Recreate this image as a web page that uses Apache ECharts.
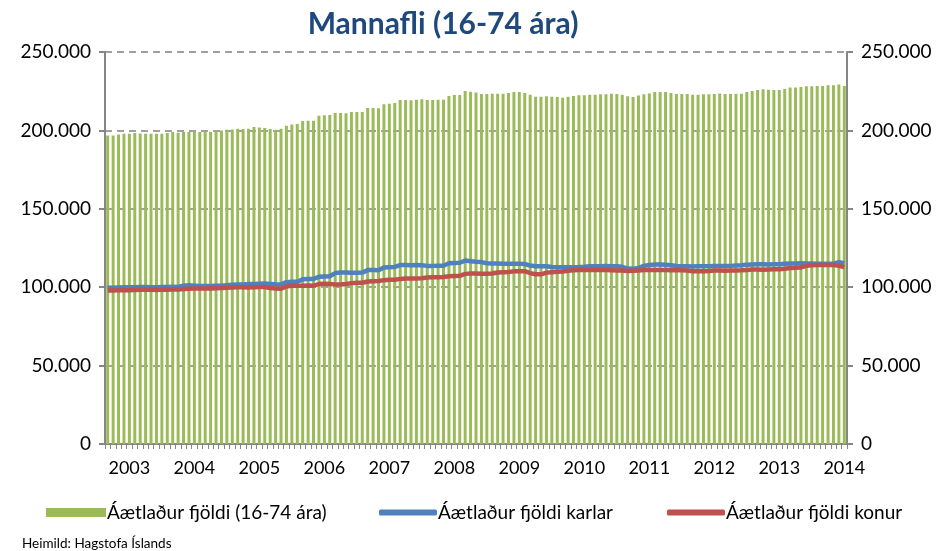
<!DOCTYPE html>
<html>
<head>
<meta charset="utf-8">
<script src="https://cdn.jsdelivr.net/npm/echarts@6/dist/echarts.min.js"></script>
<style>
  html, body { margin: 0; padding: 0; background: #fff; }
</style>
</head>
<body>
<div id="mannafli" style="width: 939px; height: 551px;"></div>
<script>
// year labels on the x axis (one label per year, placed at the 5th month)
var years = ['2003', '2004', '2005', '2006', '2007', '2008', '2009', '2010', '2011', '2012', '2013', '2014'];
var monthCount = 137;

// Áætlaður fjöldi (16-74 ára), in thousands
var total = [
  196.8, 196.8, 197.4, 197.9, 197.9, 198.3, 198.1, 197.9, 197.9, 197.9, 197.9, 198.3,
  198.9, 198.5, 199.1, 198.9, 199.1, 198.9, 199.4, 199.1, 200.0, 200.0, 200.4, 200.6,
  201.1, 200.9, 201.1, 202.1, 201.9, 201.5, 200.9, 200.4, 201.1, 203.0, 203.8, 204.1,
  206.0, 206.2, 206.2, 209.4, 209.6, 209.8, 211.1, 211.1, 210.9, 211.7, 211.7, 211.7,
  214.3, 214.3, 214.1, 216.6, 217.0, 217.5, 219.4, 219.4, 219.2, 219.6, 219.8, 219.4,
  219.4, 219.6, 219.6, 221.9, 222.6, 222.6, 225.1, 224.7, 224.1, 223.2, 223.2, 223.4,
  223.4, 223.4, 223.9, 224.5, 224.5, 223.9, 222.8, 221.5, 221.5, 221.7, 221.5, 221.3,
  220.9, 221.5, 221.9, 222.4, 222.4, 222.8, 222.8, 223.0, 223.0, 223.4, 223.2, 222.8,
  221.7, 221.3, 222.2, 223.0, 223.6, 224.5, 224.5, 224.5, 223.9, 223.2, 223.2, 223.2,
  222.8, 222.8, 223.0, 223.0, 223.2, 223.6, 223.2, 223.2, 223.4, 223.4, 224.5, 225.1,
  225.8, 226.2, 226.0, 225.8, 225.8, 226.4, 227.3, 227.3, 227.7, 228.1, 228.1, 228.3,
  228.3, 228.8, 228.8, 229.2, 228.3
];

// Áætlaður fjöldi karlar, in thousands
var karlar = [
  99.6, 99.7, 99.8, 99.9, 100.0, 100.0, 100.1, 100.1, 100.0, 100.0, 100.1, 100.2,
  100.3, 100.2, 101.0, 101.2, 101.0, 100.8, 100.7, 100.8, 100.9, 101.0, 101.3, 101.5,
  101.7, 101.8, 102.0, 102.1, 102.2, 102.3, 102.1, 101.9, 101.8, 103.2, 103.4, 103.5,
  105.0, 105.2, 105.3, 106.6, 106.8, 107.0, 109.0, 109.4, 109.3, 109.2, 109.2, 109.3,
  110.9, 110.9, 110.8, 112.6, 112.8, 112.9, 114.1, 114.1, 114.0, 114.1, 114.0, 113.6,
  113.6, 113.7, 113.7, 115.3, 115.5, 115.6, 117.0, 116.5, 116.2, 116.0, 115.3, 115.1,
  115.1, 114.9, 114.9, 115.0, 115.0, 114.8, 113.8, 113.4, 113.4, 113.3, 112.9, 112.8,
  112.7, 112.7, 112.8, 112.9, 113.1, 113.4, 113.4, 113.4, 113.5, 113.4, 113.3, 113.0,
  111.9, 111.7, 112.3, 113.6, 114.2, 114.4, 114.4, 114.3, 114.0, 113.5, 113.4, 113.3,
  113.2, 113.3, 113.4, 113.4, 113.5, 113.6, 113.5, 113.6, 113.8, 114.0, 114.3, 114.5,
  114.6, 114.6, 114.5, 114.6, 114.7, 114.9, 115.1, 115.1, 115.2, 115.1, 115.1, 115.0,
  115.0, 114.9, 114.9, 116.0, 115.3
];

// Áætlaður fjöldi konur, in thousands
var konur = [
  97.9, 97.9, 98.0, 98.0, 98.1, 98.2, 98.3, 98.3, 98.3, 98.2, 98.3, 98.4,
  98.5, 98.5, 98.8, 99.0, 99.1, 99.1, 99.1, 99.2, 99.4, 99.5, 99.7, 99.8,
  99.9, 99.9, 99.8, 100.0, 100.2, 100.1, 99.5, 99.1, 99.0, 100.5, 100.9, 100.9,
  101.0, 101.1, 101.0, 102.0, 102.2, 102.1, 101.8, 101.7, 102.1, 102.6, 102.8, 102.8,
  103.6, 103.8, 103.9, 104.5, 104.7, 104.8, 105.3, 105.5, 105.5, 105.6, 105.7, 106.2,
  106.4, 106.4, 106.5, 107.0, 107.2, 107.3, 108.5, 108.7, 108.7, 108.6, 108.6, 108.7,
  109.4, 109.6, 109.7, 110.1, 110.2, 110.2, 109.0, 108.3, 108.2, 109.3, 109.6, 109.8,
  110.0, 110.5, 110.8, 110.9, 110.9, 110.9, 110.9, 111.0, 110.9, 110.8, 110.7, 110.6,
  110.4, 110.5, 110.7, 110.9, 110.9, 111.0, 110.9, 110.9, 110.8, 110.9, 110.8, 110.6,
  110.2, 110.1, 110.2, 110.3, 110.6, 110.6, 110.5, 110.6, 110.7, 110.8, 111.0, 111.3,
  111.3, 111.2, 111.3, 111.4, 111.5, 111.8, 112.3, 112.4, 112.6, 113.6, 114.0, 114.1,
  114.1, 114.2, 114.1, 113.6, 112.8
];

var months = [];
for (var i = 0; i < monthCount; i++) {
  months.push(years[Math.floor(i / 12)] + '-' + String(i % 12 + 1).padStart(2, '0'));
}
function thousands(arr) {
  return arr.map(function (v) { return Math.round(v * 1000); });
}
function fmt(v) {
  return String(v).replace(/\B(?=(\d{3})+(?!\d))/g, '.');
}

var font = 'Lato, "Open Sans", sans-serif';
var chart = echarts.init(document.getElementById('mannafli'));
var yAxisBase = {
  type: 'value',
  min: 0,
  max: 250000,
  interval: 50000,
  axisLine: { show: true, lineStyle: { color: '#868686', width: 2 } },
  axisTick: { show: true, length: 6, lineStyle: { color: '#868686', width: 2 } }
};
var legendText = { fontFamily: font, fontSize: 19, color: '#000', padding: [0, 0, 0, -4] };

chart.setOption({
  animation: false,
  title: {
    text: 'Mannafli (16-74 ára)',
    left: 438,
    top: 4,
    textAlign: 'center',
    textStyle: { fontFamily: font, fontSize: 30, fontWeight: 'bold', color: '#1F497D' }
  },
  grid: { left: 105, right: 92, top: 52, bottom: 107 },
  legend: [
    {
      data: ['Áætlaður fjöldi (16-74 ára)'],
      left: 41, top: 498,
      icon: 'rect', itemWidth: 60, itemHeight: 9,
      textStyle: legendText
    },
    {
      data: ['Áætlaður fjöldi karlar'],
      left: 374, top: 498,
      icon: 'roundRect', itemWidth: 58, itemHeight: 6,
      textStyle: legendText
    },
    {
      data: ['Áætlaður fjöldi konur'],
      left: 662, top: 498,
      icon: 'roundRect', itemWidth: 58, itemHeight: 6,
      textStyle: legendText
    }
  ],
  graphic: [{
    type: 'text',
    left: 22,
    top: 537,
    style: { text: 'Heimild: Hagstofa Íslands', font: '13.5px ' + font, fill: '#000' }
  }],
  xAxis: {
    type: 'category',
    data: months,
    boundaryGap: true,
    axisLine: { lineStyle: { color: '#868686', width: 2 } },
    axisTick: { show: true, interval: 0, length: 5, lineStyle: { color: '#868686', width: 1 } },
    axisLabel: {
      interval: function (index) { return index % 12 === 4; },
      formatter: function (v) { return v.slice(0, 4); },
      margin: 15,
      fontFamily: font, fontSize: 18, color: '#000'
    }
  },
  yAxis: [
    Object.assign({}, yAxisBase, {
      position: 'left',
      splitLine: { show: true, lineStyle: { color: '#A0A0A0', width: 2, type: [7, 5] } },
      axisLabel: { formatter: fmt, margin: 14, fontFamily: font, fontSize: 19, color: '#000' }
    }),
    Object.assign({}, yAxisBase, {
      position: 'right',
      splitLine: { show: false },
      axisLabel: { formatter: fmt, margin: 14, fontFamily: font, fontSize: 19, color: '#000' }
    })
  ],
  series: [
    {
      name: 'Áætlaður fjöldi (16-74 ára)',
      type: 'bar',
      barWidth: '55%',
      itemStyle: { color: '#9BBB59' },
      data: thousands(total)
    },
    {
      name: 'Áætlaður fjöldi karlar',
      type: 'line',
      showSymbol: false,
      symbol: 'none',
      lineStyle: { color: '#4F81BD', width: 4.5 },
      itemStyle: { color: '#4F81BD' },
      data: thousands(karlar)
    },
    {
      name: 'Áætlaður fjöldi konur',
      type: 'line',
      showSymbol: false,
      symbol: 'none',
      lineStyle: { color: '#C0504D', width: 4.5 },
      itemStyle: { color: '#C0504D' },
      data: thousands(konur)
    }
  ]
});
window.addEventListener('resize', function () {
  chart.resize();
});
</script>
</body>
</html>
